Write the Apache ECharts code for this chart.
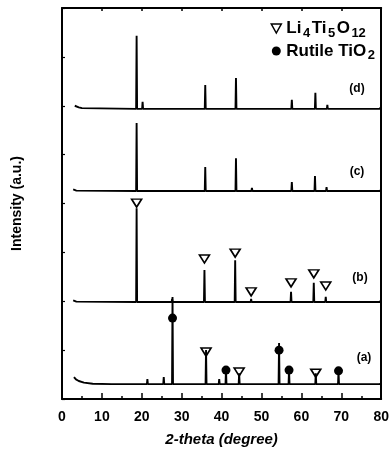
<!DOCTYPE html>
<html>
<head>
<meta charset="utf-8">
<script src="https://cdn.jsdelivr.net/npm/echarts@6/dist/echarts.min.js"></script>
<style>html,body{margin:0;padding:0;background:#fff}#chart{width:392px;height:455px}</style>
</head>
<body>
<div id="chart"></div>
<script>
// baseline of each trace (traces are stacked in the figure)
const offsetA = 3.8, offsetB = 24.8, offsetC = 53.2, offsetD = 74.2;

// low-angle start of each scan [2theta, intensity]
const headA = [[3.0, 1.8], [3.5, 1.2], [4.2, 0.8], [5.5, 0.4], [7.7, 0.1]];
const headB = [[2.8, 0.4], [3.6, 0.1]];
const headC = [[2.8, 0.4], [3.6, 0.1]];
const headD = [[3.2, 0.8], [4.2, 0.4], [5.0, 0.2]];

// peaks [2theta, height above baseline]
const peaksA = [[12.5, 0.2], [16.8, 0.2], [21.4, 1.3], [23.0, 0.4], [25.5, 1.8], [27.7, 22.3], [30.7, 0.5], [32.2, 0.3],
    [36.1, 8.7], [39.4, 1.3], [41.1, 3.6], [44.4, 2.8], [48.5, 0.3], [54.4, 10.5], [56.9, 3.6], [62.8, 0.4],
    [63.6, 2.8], [69.3, 3.3], [76.5, 0.3]];
const peaksB = [[18.7, 24.0], [27.6, 0.8], [30.5, 0.3], [35.7, 8.2], [43.4, 10.7], [47.4, 0.8], [57.4, 2.6],
    [63.1, 4.9], [66.1, 1.3], [75.5, 0.2]];
const peaksC = [[18.7, 17.4], [35.9, 6.1], [43.6, 8.4], [47.6, 0.8], [51.5, 0.2], [57.6, 2.3], [63.4, 3.8],
    [66.3, 1.0], [75.2, 0.3]];
const peaksD = [[18.7, 18.7], [20.2, 1.8], [35.9, 6.1], [43.6, 7.9], [47.6, 0.5], [51.9, 0.3], [57.6, 2.3],
    [63.5, 4.1], [66.5, 1.0], [75.0, 0.3]];
// small rise at the 80 deg end
const tailA = 0.3, tailB = 0.5, tailC = 0.3, tailD = 0.5;

// phase markers [2theta, y]
const li4ti5o12 = [[18.7, 50.1], [35.7, 35.8], [43.4, 37.3], [47.4, 27.4], [57.4, 29.7], [63.1, 32.0], [66.1, 28.9],
    [36.1, 12.0], [44.4, 6.9], [63.6, 6.6]];
const rutile = [[27.7, 20.7], [41.1, 7.4], [54.4, 12.5], [56.9, 7.4], [69.3, 7.2]];

const font = 'Liberation Sans, Arial, sans-serif';

function trace (head, peaks, offset, tail) {
    const pts = head.map(p => [p[0], offset + p[1]]);
    peaks.forEach(p => {
        pts.push([p[0] - 0.12, offset], [p[0], offset + p[1]], [p[0] + 0.12, offset]);
    });
    pts.push([79.6, offset], [80, offset + tail]);
    return pts;
}

function line (name, data) {
    return {
        name: name, type: 'line', data: data, symbol: 'none', silent: true,
        lineStyle: {color: '#000', width: 1.9}, z: 2
    };
}

function label (text, x, y) {
    return {type: 'text', x: x, y: y, style: {text: text, font: 'bold 12px ' + font, fill: '#000', align: 'center', verticalAlign: 'middle'}};
}

const chart = echarts.init(document.getElementById('chart'));
chart.setOption({
    animation: false,
    grid: {left: 62, right: 9, top: 8, bottom: 56},
    legend: {
        right: 12, top: 15, orient: 'vertical', itemGap: 3,
        itemWidth: 10, itemHeight: 9, itemStyle: {borderWidth: 1.5},
        data: [{name: 'Li4Ti5O12', icon: 'path://M0,0L10,0L5,9Z'}, 'Rutile TiO2'],
        formatter: function (name) {
            return name.replace(/(\d+)/g, '{s|$1}');
        },
        textStyle: {
            color: '#000', fontFamily: font, fontWeight: 'bold', fontSize: 17,
            rich: {s: {fontFamily: font, fontWeight: 'bold', fontSize: 13, padding: [9, 1.5, 0, 1.5]}}
        }
    },
    xAxis: [{
        type: 'value', min: 0, max: 80, interval: 10,
        name: '2-theta (degree)', nameLocation: 'middle', nameGap: 33,
        nameTextStyle: {color: '#000', fontFamily: font, fontWeight: 'bold', fontStyle: 'italic', fontSize: 15},
        axisLine: {onZero: false, lineStyle: {color: '#000', width: 2}},
        axisTick: {inside: true, length: 6, lineStyle: {width: 1.5}},
        minorTick: {show: true, splitNumber: 2, length: 3, lineStyle: {color: '#000', width: 1.5}},
        axisLabel: {color: '#000', fontFamily: font, fontWeight: 'bold', fontSize: 14, margin: 11},
        splitLine: {show: false}
    }, {
        type: 'value', position: 'top', min: 0, max: 80, interval: 10,
        axisLine: {onZero: false, lineStyle: {color: '#000', width: 2}},
        axisTick: {inside: true, length: 3, lineStyle: {width: 1.5}},
        axisLabel: {show: false}, splitLine: {show: false}
    }],
    yAxis: [{
        type: 'value', min: 0, max: 100, interval: 12.5,
        name: 'Intensity (a.u.)', nameLocation: 'middle', nameGap: 38,
        nameTextStyle: {color: '#000', fontFamily: font, fontWeight: 'bold', fontSize: 14},
        axisLine: {show: true, onZero: false, lineStyle: {color: '#000', width: 2}},
        axisTick: {inside: true, length: 3, lineStyle: {width: 1.2}},
        axisLabel: {show: false}, splitLine: {show: false}
    }, {
        type: 'value', position: 'right', min: 0, max: 100,
        axisLine: {show: true, onZero: false, lineStyle: {color: '#000', width: 2}},
        axisTick: {show: false}, axisLabel: {show: false}, splitLine: {show: false}
    }],
    series: [
        line('(a)', trace(headA, peaksA, offsetA, tailA)),
        line('(b)', trace(headB, peaksB, offsetB, tailB)),
        line('(c)', trace(headC, peaksC, offsetC, tailC)),
        line('(d)', trace(headD, peaksD, offsetD, tailD)),
        {
            name: 'Li4Ti5O12', type: 'scatter', data: li4ti5o12,
            symbol: 'triangle', symbolRotate: 180, symbolSize: [10, 8], z: 3,
            itemStyle: {color: 'rgba(255,255,255,0)', borderColor: '#000', borderWidth: 1.6, opacity: 1}
        },
        {
            name: 'Rutile TiO2', type: 'scatter', data: rutile,
            symbol: 'circle', symbolSize: 9, z: 3,
            itemStyle: {color: '#000', opacity: 1}
        }
    ],
    graphic: [
        label('(d)', 357, 89),
        label('(c)', 357, 172),
        label('(b)', 360, 278),
        label('(a)', 364, 358)
    ]
});
</script>
</body>
</html>
